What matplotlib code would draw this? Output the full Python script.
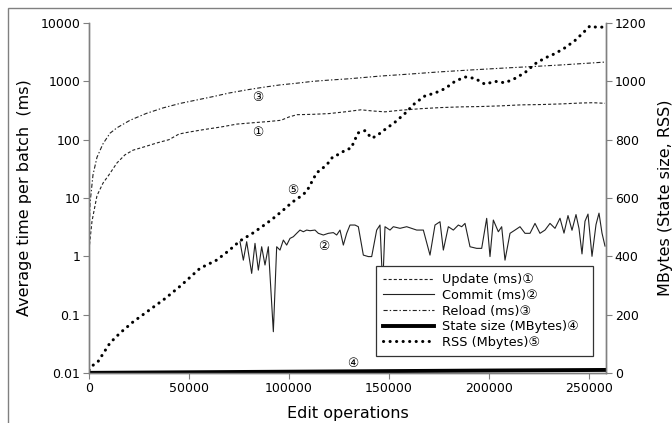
import matplotlib
matplotlib.use("Agg")
import matplotlib.pyplot as plt
from matplotlib.patches import Rectangle
from matplotlib.ticker import FixedLocator, FixedFormatter

plt.rcParams['font.family'] = ['DejaVu Sans']
plt.rcParams['lines.scale_dashes'] = False

# --- data ---
update_x = [0, 1500, 4000, 7000, 10000, 14000, 18000, 22000, 28000, 34000, 40000, 45000,
            50000, 58000, 66000, 74000, 82000, 90000, 96000, 100000, 104000, 112000, 120000,
            128000, 136000, 142000, 148000, 156000, 166000, 176000, 186000, 196000, 206000,
            216000, 226000, 236000, 246000, 252000, 258000]
update_ms = [1.3, 4, 11, 18, 25, 40, 55, 66, 76, 88, 100, 125,
             135, 150, 165, 185, 195, 205, 215, 245, 268, 272, 280,
             300, 325, 310, 300, 320, 340, 355, 365, 370, 380,
             395, 400, 410, 425, 430, 420]

reload_x = [0, 500, 2000, 4000, 7000, 10500, 14000, 20500, 28800, 37000, 45500, 54000,
            62000, 70000, 78800, 87000, 95500, 104000, 112000, 120000, 129000, 137000,
            145500, 160000, 175000, 190000, 205000, 220000, 235000, 250000, 258000]
reload_ms = [1.5, 8, 25, 50, 85, 129, 160, 215, 283, 350, 418, 480,
             547, 630, 713, 790, 868, 930, 1000, 1050, 1100, 1160,
             1230, 1330, 1450, 1560, 1670, 1780, 1900, 2050, 2140]

commit_x = [75500, 77170, 78840, 81340, 83000, 84670, 86340, 88000, 89670, 92170, 93840,
            95500, 97170, 98840, 100500, 102170, 103840, 105500, 107170, 108840, 110500,
            113000, 114670, 117170, 119670, 122170, 123840, 125500, 127170, 128840, 130500,
            133000, 134670, 137170, 139670, 141340, 143840, 145500, 146840, 148000, 150500,
            152170, 155500, 158840, 163840, 167170, 170500, 173000, 175500, 177170, 179670,
            182170, 184670, 186340, 188000, 190500, 193840, 196340, 198840, 200500, 202170,
            204670, 206340, 208000, 210500, 213000, 215500, 218000, 220500, 223000, 225500,
            228000, 230500, 233000, 235500, 237500, 239500, 241500, 243500, 245000, 246500,
            248000, 249500, 251500, 253500, 255000, 256500, 258000]
commit_ms = [1.78, 0.86, 1.78, 0.51, 1.67, 0.58, 1.46, 0.71, 1.46, 0.051, 1.46,
             1.28, 1.90, 1.56, 2.03, 2.17, 2.48, 2.82, 2.64, 2.82, 2.75,
             2.82, 2.48, 2.32, 2.48, 2.55, 2.32, 2.82, 1.56, 2.48, 3.44,
             3.44, 3.22, 1.05, 0.99, 0.99, 2.82, 3.44, 0.3, 3.22, 2.82,
             3.22, 3.02, 3.22, 2.82, 2.82, 1.05, 3.44, 3.92, 1.28, 3.22,
             2.82, 3.44, 3.22, 3.67, 1.46, 1.37, 1.37, 4.48, 0.99, 4.19,
             2.64, 3.22, 0.86, 2.48, 2.82, 3.22, 2.48, 2.48, 3.67, 2.48,
             2.82, 3.67, 3.02, 4.5, 2.5, 5.0, 2.8, 5.2, 3.0, 1.1,
             4.0, 5.3, 1.0, 3.5, 5.5, 2.5, 1.5]

state_x = [0, 50000, 100000, 150000, 200000, 258000]
state_mb = [0.5, 2.5, 4.5, 6.5, 8.5, 10.5]

rss_x = [0, 1500, 4500, 10500, 15500, 22000, 30000, 38000, 46000, 55500, 63800, 70000,
         75500, 82000, 88800, 93000, 97200, 101500, 105500, 108800, 113800, 118800, 122000,
         125000, 128800, 131000, 134500, 138000, 141300, 143800, 148000, 153000, 158000,
         163000, 168000, 173000, 178000, 183000, 188000, 193000, 198000, 203000, 208000,
         213000, 218000, 223000, 228000, 233000, 238000, 243000, 247000, 250500, 254000, 257000]
rss_mb = [10, 24, 39, 103, 137, 175, 215, 255, 300, 359, 387, 420,
          453, 480, 513, 535, 559, 585, 604, 622, 686, 713, 742,
          750, 767, 770, 823, 831, 805, 813, 835, 860, 890,
          925, 950, 960, 975, 1000, 1015, 1010, 990, 1000, 995,
          1010, 1030, 1060, 1080, 1095, 1115, 1140, 1166, 1190, 1185, 1186]

left_ticks = [0.01, 0.1, 1, 10, 100, 1000, 10000]
left_labels = ['0.01', '0.1', '1', '10', '100', '1000', '10000']
right_ticks = [0, 200, 400, 600, 800, 1000, 1200]
x_ticks = [0, 50000, 100000, 150000, 200000, 250000]

line_col = '#222222'
spine_col = '#808080'

fig = plt.figure(figsize=(6.72, 4.23), dpi=100)
ax = fig.add_axes([89 / 672, 1 - 373 / 423, (606 - 89) / 672, 350 / 423])
ax2 = ax.twinx()

l1, = ax.plot(update_x, update_ms, color=line_col, lw=0.8, ls=(0, (2.2, 1.5)),
              label='Update (ms)\u2460')
l2, = ax.plot(commit_x, commit_ms, color=line_col, lw=0.8, ls='-',
              label='Commit (ms)\u2461')
l3, = ax.plot(reload_x, reload_ms, color=line_col, lw=0.8, ls=(0, (3, 1.5, 1, 1.5)),
              label='Reload (ms)\u2462')
l4, = ax2.plot(state_x, state_mb, color='black', lw=2.8, label='State size (MBytes)\u2463')
l5, = ax2.plot(rss_x, rss_mb, color='black', lw=2.2, ls=(0, (0.1, 4.6)),
               dash_capstyle='round', label='RSS (Mbytes)\u2464')

ax.set_yscale('log')
ax.set_ylim(0.01, 10000)
ax.set_xlim(0, 258500)
ax2.set_ylim(0, 1200)

ax.yaxis.set_major_locator(FixedLocator(left_ticks))
ax.yaxis.set_major_formatter(FixedFormatter(left_labels))
ax.yaxis.set_minor_locator(FixedLocator([]))
ax.set_xticks(x_ticks)
ax.set_xticklabels([str(v) for v in x_ticks])
ax2.set_yticks(right_ticks)
ax2.set_yticklabels([str(v) for v in right_ticks])

for a in (ax, ax2):
    a.spines['top'].set_visible(False)
    for s in ('left', 'right', 'bottom'):
        a.spines[s].set_color(spine_col)
        a.spines[s].set_linewidth(1.0)
    a.tick_params(direction='out', length=4.3, width=0.8, color=spine_col,
                  labelsize=9, pad=2, labelcolor='black')

ax.set_xlabel('Edit operations', fontsize=11.5, labelpad=8)
ax.set_ylabel('Average time per batch  (ms)', fontsize=11.5, labelpad=6)
ax2.set_ylabel('MBytes (State size, RSS)', fontsize=11.5, labelpad=8)

# circled markers next to the curves
ax.text(84500, 538, '\u2462', fontsize=9, ha='center', va='center')
ax.text(84500, 135, '\u2460', fontsize=9, ha='center', va='center')
ax.text(102000, 13.7, '\u2464', fontsize=9, ha='center', va='center')
ax.text(117500, 1.5, '\u2461', fontsize=9, ha='center', va='center')
ax.text(132000, 0.0148, '\u2463', fontsize=9, ha='center', va='center')

leg = ax2.legend(handles=[l1, l2, l3, l4, l5], loc='upper left',
                 bbox_to_anchor=(0.5545, 0.0, (593 - 375.7) / 517, 0.3057),
                 mode='expand', borderaxespad=0, fontsize=9.3,
                 fancybox=False, framealpha=1, edgecolor='#333333',
                 handlelength=4, handletextpad=0.55, labelspacing=0.21,
                 borderpad=0.55)
leg.get_frame().set_linewidth(0.9)

fig.patches.append(Rectangle((8 / 672, -0.1), 1.2, 0.1 + 1 - 8 / 423,
                             transform=fig.transFigure, fill=False,
                             edgecolor=spine_col, lw=1.0))

fig.savefig('out.png', dpi=100)
